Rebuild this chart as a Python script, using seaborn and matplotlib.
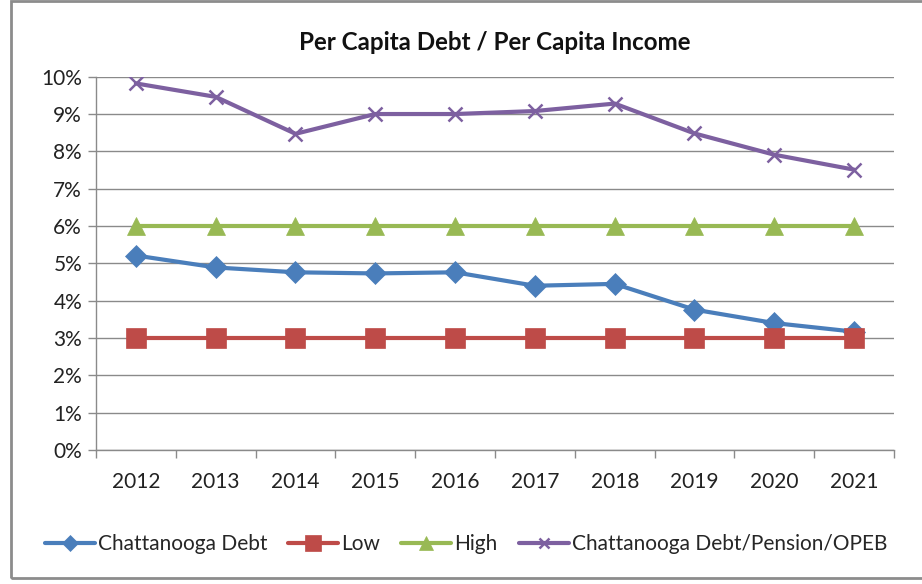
import numpy as np
import pandas as pd
import matplotlib
matplotlib.use("Agg")
import matplotlib.pyplot as plt
from matplotlib.patches import Rectangle
from matplotlib.ticker import FuncFormatter, MultipleLocator
import seaborn as sns

# data (percent)
years = [2012, 2013, 2014, 2015, 2016, 2017, 2018, 2019, 2020, 2021]
debt = [5.21, 4.89, 4.76, 4.73, 4.76, 4.40, 4.45, 3.76, 3.40, 3.17]
low = [3.0] * 10
high = [6.0] * 10
debt_pension_opeb = [9.82, 9.46, 8.47, 9.00, 9.00, 9.08, 9.28, 8.48, 7.91, 7.51]

series_names = ["Chattanooga Debt", "Low", "High", "Chattanooga Debt/Pension/OPEB"]
series_values = [debt, low, high, debt_pension_opeb]

sns.set_theme(style="white")
plt.rcParams["font.family"] = ["Lato", "DejaVu Sans"]

fig = plt.figure(figsize=(9.22, 5.84), dpi=100)
ax = fig.add_axes([96 / 922, 1 - 450 / 584, (894 - 96) / 922, (450 - 76.7) / 584])

styles = {
    "Chattanooga Debt": dict(color="#4A7EBB", marker="D", markersize=11),
    "Low": dict(color="#BE4B48", marker="s", markersize=14.5),
    "High": dict(color="#98B954", marker="^", markersize=13),
    "Chattanooga Debt/Pension/OPEB": dict(color="#7D60A0", marker="x", markersize=10,
                                          markeredgewidth=1.8),
}

for name, vals in zip(series_names, series_values):
    st = styles[name]
    sns.lineplot(x=years, y=vals, ax=ax, label=name, color=st["color"],
                 linewidth=3, marker=st["marker"], markersize=st["markersize"],
                 markeredgecolor=st["color"],
                 markeredgewidth=st.get("markeredgewidth", 0.5), legend=False)

ax.set_xlim(2011.5, 2021.5)
ax.set_ylim(0, 10)
ax.set_xticks(years)
ax.set_xticklabels([str(y) for y in years])
ax.xaxis.set_minor_locator(MultipleLocator(1, offset=0.5))
ax.yaxis.set_major_locator(MultipleLocator(1))
ax.yaxis.set_major_formatter(FuncFormatter(lambda v, p: f"{v:.0f}%"))

ax.grid(axis="y", color="#8a8a8a", linewidth=1)
ax.set_axisbelow(True)
for s in ["top", "right"]:
    ax.spines[s].set_visible(False)
for s in ["left", "bottom"]:
    ax.spines[s].set_color("#8a8a8a")
    ax.spines[s].set_linewidth(1)

ax.tick_params(axis="x", which="major", length=0, pad=16, labelsize=15, labelcolor="#222222")
ax.tick_params(axis="x", which="minor", length=6, width=1, color="#8a8a8a", direction="out", bottom=True)
ax.tick_params(axis="y", length=6, width=1, color="#8a8a8a", direction="out", left=True,
               labelsize=15, labelcolor="#222222", pad=4)
ax.set_xlabel("")
ax.set_ylabel("")

fig.text(495 / 922, 1 - 42 / 584, "Per Capita Debt / Per Capita Income",
         ha="center", va="center", fontsize=17.4, fontweight="bold", color="#111111")

handles, labels = ax.get_legend_handles_labels()
fig.legend(handles, labels, loc="center", bbox_to_anchor=(466 / 922, 1 - 544 / 584),
           ncol=4, frameon=False, fontsize=15, handlelength=2.4, handletextpad=0.15,
           columnspacing=1.0, markerscale=0.75)

# chart frame
fig.patches.append(Rectangle((11 / 922, 6 / 584), 1.0, 1 - 7 / 584, transform=fig.transFigure,
                             fill=False, edgecolor="#8c8c8c", linewidth=2))

fig.savefig("out.png", dpi=100)
